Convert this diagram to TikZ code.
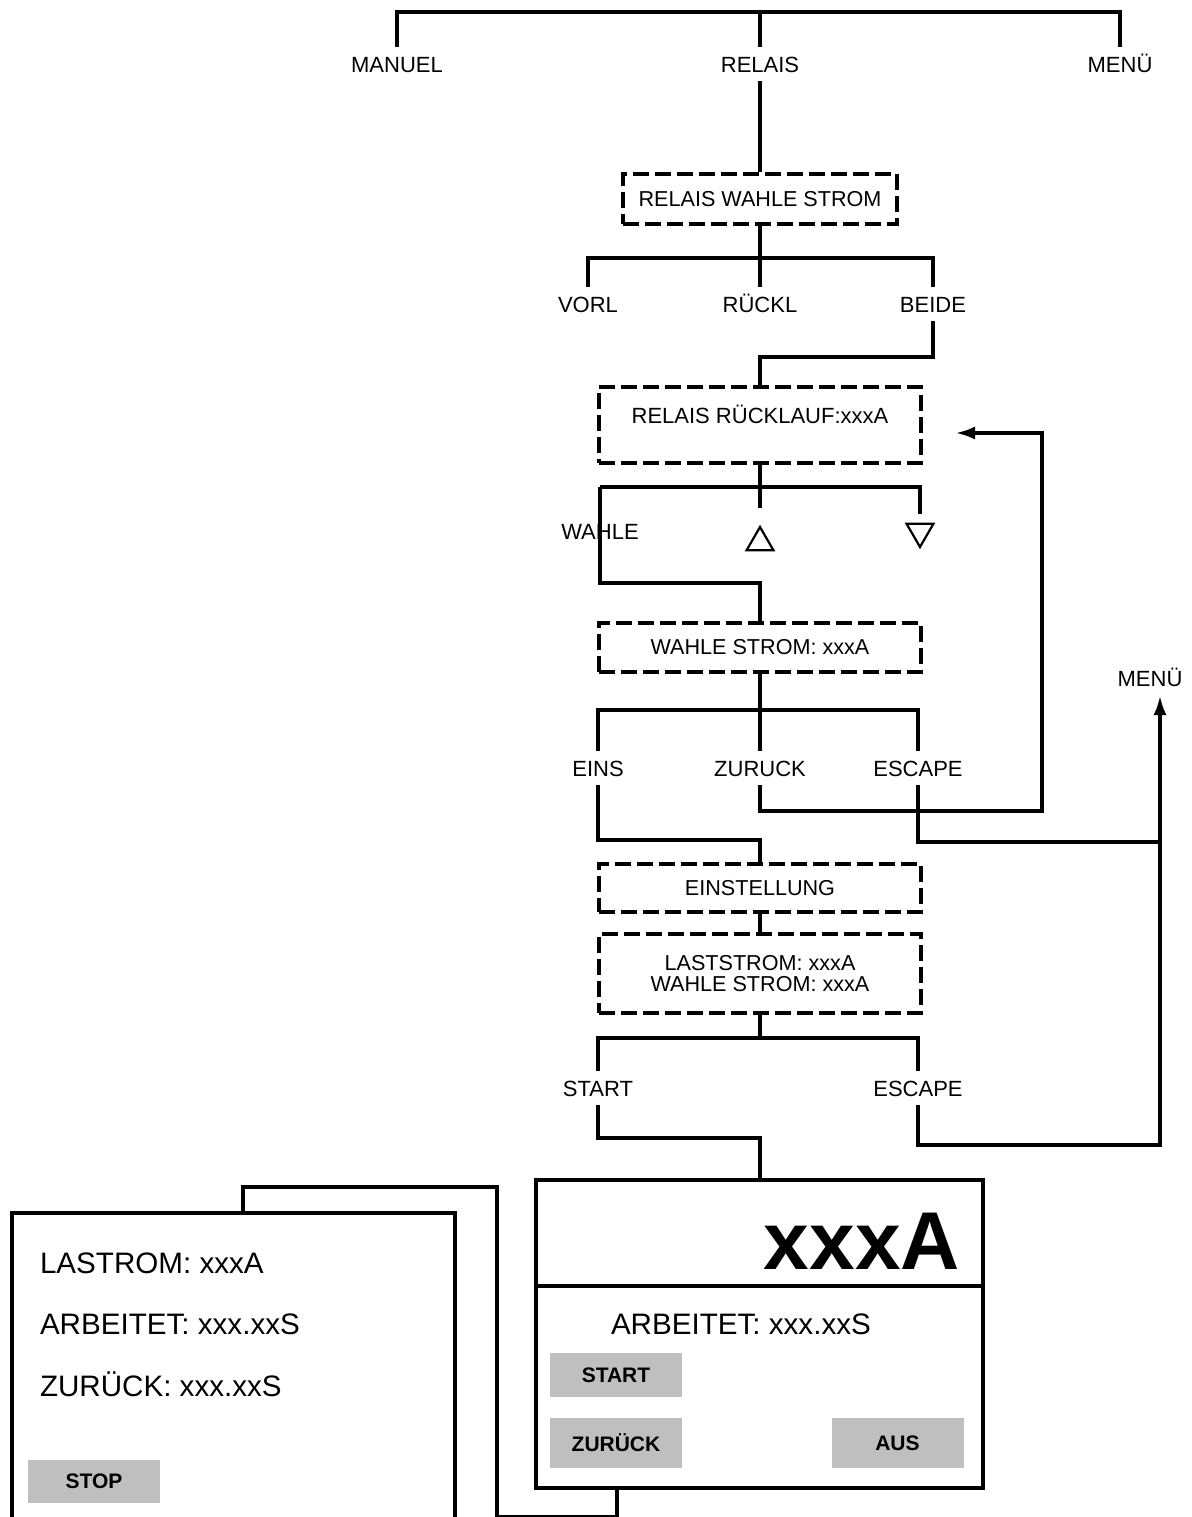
\documentclass[tikz,border=0pt]{standalone}
\usepackage{fontspec}
\setmainfont{Liberation Sans}
\usepackage{tikz}
\usetikzlibrary{shapes.geometric,arrows.meta}
\tikzset{lbl/.style={
    font=\fontsize{11}{12}\selectfont, inner xsep=2pt, inner ysep=3.5pt,
    text height=8pt, text depth=0pt}}
\tikzset{dashbox/.style={
    draw, dash pattern=on 8pt off 3pt, inner sep=0pt, minimum width=161pt,
    font=\fontsize{10.8}{12}\selectfont, align=center}}
\tikzset{card/.style={
    font=\fontsize{14.8}{17}\selectfont, anchor=west, inner sep=0pt,
    text height=10.6pt, text depth=0pt}}
\tikzset{btn/.style={
    fill=black!25, inner sep=0pt, minimum width=66pt,
    font=\fontsize{10.5}{12}\selectfont\bfseries}}
\tikzset{tri/.style={
    draw, regular polygon, regular polygon sides=3, minimum size=15.5pt,
    inner sep=0pt, line width=1.1pt}}
\tikzset{arr/.style={-{Latex[length=10pt,width=6.5pt]}}}

\begin{document}
\begin{tikzpicture}[x=0.5pt, y=-0.5pt, line width=2pt]
\useasboundingbox (0,0) rectangle (1192,1517);
\clip (0,0) rectangle (1192,1517);

  % menu
  \coordinate (top) at (760,12);
  \node[lbl] (manuel) at (397,64) {MANUEL};
  \node[lbl] (relais) at (760,64) {RELAIS};
  \node[lbl] (menu) at (1120,64) {MENÜ};
  \draw (manuel.north) |- (top) -| (menu.north);
  \draw (top) -- (relais.north);

  % relais
  \node[dashbox, minimum width=137pt, minimum height=25pt] (rws) at (760,199) {RELAIS WAHLE STROM};
  \draw (relais.south) -- (rws.north);
  \draw (rws.south) -- ++(0,32) coordinate (b1);
  \node[lbl] (vorl) at (588,304) {VORL};
  \node[lbl] (rueckl) at (760,304) {RÜCKL};
  \node[lbl] (beide) at (933,304) {BEIDE};
  \draw (vorl.north) |- (b1) -| (beide.north);
  \draw (b1 -| rueckl) -- (rueckl.north);

  \node[dashbox, minimum height=38pt] (rlf) at (760,425) {};
  \node[lbl] (rlftxt) at (760,415) {RELAIS RÜCKLAUF:xxxA};
  \draw (beide.south) -- ++(0,36) -| (rlf.north);

  % wahl
  \draw (rlf.south) -- ++(0,22) coordinate (b3);
  \node[lbl] (wahl) at (600,531) {WAHLE};
  \node[tri] (up) at (760,542.5) {};
  \node[tri, shape border rotate=180] (dn) at (920,531.5) {};
  \draw (b3 -| wahl) -| ([yshift=4.5pt]dn.north);
  \draw (b3) -- ([yshift=8.5pt]up.north);

  \node[dashbox, minimum height=24.5pt] (ws) at (760,647.5) {WAHLE STROM: xxxA};
  \draw (b3 -| wahl) -- (wahl.center) -- ++(0,52) -| (ws.north);

  \draw (ws.south) -- ++(0,36) coordinate (b4);
  \node[lbl] (eins) at (598,768) {EINS};
  \node[lbl] (zur) at (760,768) {ZURUCK};
  \node[lbl] (esc1) at (918,768) {ESCAPE};
  \draw (eins.north) |- (b4) -| (esc1.north);
  \draw (b4) -- (zur.north);

  % retour
  \node[lbl] (menu2) at (1150,678) {MENÜ};
  \coordinate (menuin) at ([xshift=5pt]menu2.south);
  \coordinate (rlfcorner) at (1042,433);
  \coordinate (rlfin) at (955,433);
  \draw[arr] (zur.south) -- ++(0,26) -| (rlfcorner) -- (rlfin);
  \draw (esc1.south) -- ++(0,57) coordinate (j1) -- (j1 -| menuin);

  % einstellung
  \node[dashbox, minimum height=24pt] (est) at (760,888) {EINSTELLUNG};
  \draw (eins.south) -- ++(0,55) -| (est.north);
  \node[dashbox, minimum height=39.5pt] (last) at (760,973.5) {LASTSTROM: xxxA\\[-1.5pt]WAHLE STROM: xxxA};
  \draw (est.south) -- (last.north);
  \draw (last.south) -- ++(0,23) coordinate (b5);
  \node[lbl] (start) at (598,1088) {START};
  \node[lbl] (esc2) at (918,1088) {ESCAPE};
  \draw (start.north) |- (b5) -| (esc2.north);
  \draw[arr] (esc2.south) -- ++(0,40) -| (menuin);

  % anzeige
  \node[draw, minimum width=223.5pt, minimum height=154pt, inner sep=0pt] (disp) at (759.5,1334) {};
  \draw (start.south) -- ++(0,33) -| (disp.north);
  \draw ([yshift=-54pt]disp.north west) -- ([yshift=-54pt]disp.north east);
  \node[font=\fontsize{41}{45}\selectfont\bfseries, anchor=base east, inner sep=0pt] (amps) at (962,1269) {xxxA};
  \node[card] (arb) at (609,1324) {ARBEITET: xxx.xxS};
  \node[btn, minimum height=22pt] (startbtn) at (616,1375) {START};
  \node[btn, minimum height=25pt] (zurbtn) at (616,1443) {ZURÜCK};
  \node[btn, minimum height=25pt] (ausbtn) at (897.5,1443) {AUS};

  % karten
  \node[draw, fill=white, minimum width=127pt, minimum height=186.5pt, inner sep=0pt] (back) at (370,1373.5) {};
  \node[draw, fill=white, minimum width=221.5pt, minimum height=173.5pt, inner sep=0pt] (front) at (233.5,1386.5) {};
  \node[card] (lastr) at (38,1263) {LASTROM: xxxA};
  \node[card] (arb2) at (38,1324) {ARBEITET: xxx.xxS};
  \node[card] (zur2) at (38,1386) {ZURÜCK: xxx.xxS};
  \node[btn, minimum height=21.5pt] (stopbtn) at (94,1481.5) {STOP};
  \draw ([xshift=-71.5pt]disp.south) -- ++(0,27) coordinate (dj) -- (dj -| back.east);
\end{tikzpicture}
\end{document}
